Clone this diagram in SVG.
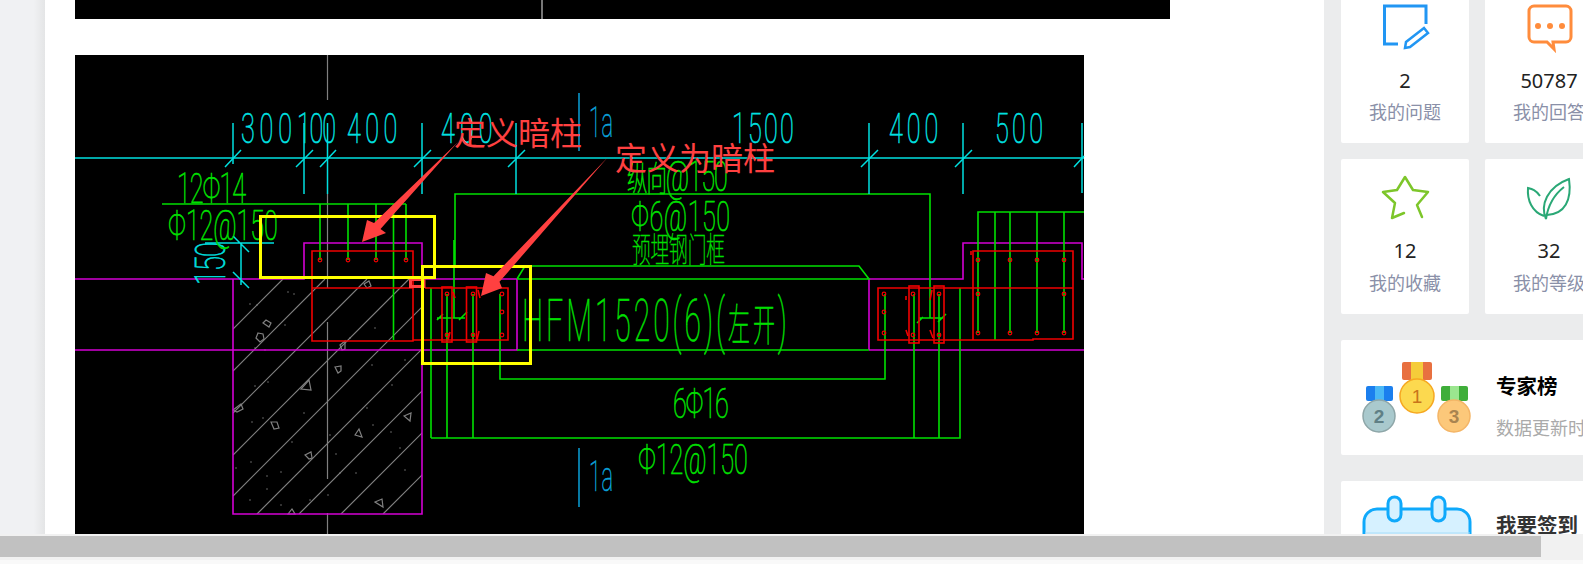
<svg xmlns="http://www.w3.org/2000/svg" width="1583" height="564" viewBox="0 0 1583 564">
<style>
.c{stroke:#00e0e0;stroke-width:1.5;fill:none}
.g{stroke:#00e000;stroke-width:1.6;fill:none}
.m{stroke:#d400d4;stroke-width:1.6;fill:none}
.r{stroke:#f00000;stroke-width:1.6;fill:none}
.y{stroke:#ffff00;stroke-width:3;fill:none}
.h{stroke:#808080;stroke-width:1.2;fill:none}
.b{stroke:#0aa0d8;stroke-width:1.5;fill:none}
.d{fill:none;stroke:#f00000;stroke-width:1.2}
.t{font-family:"Roboto","Noto Sans CJK SC",sans-serif;font-weight:100;font-size:42px;stroke-width:.7px}
.tc{fill:#00e0e0;stroke:#00e0e0}.tg{fill:#00e000;stroke:#00e000}.tb{fill:#0aa0d8;stroke:#0aa0d8}
.a{fill:#ff4040}
.n{font-family:"Noto Sans","Noto Sans CJK SC",sans-serif;font-size:20px;fill:#222;text-anchor:middle}
.l{font-family:"Noto Sans CJK SC",sans-serif;font-size:18px;fill:#8a90a8;text-anchor:middle}
.card{fill:#fff}
</style>
<defs>
<linearGradient id="gut" x1="0" x2="1" y1="0" y2="0"><stop offset="0" stop-color="#f0f1f3"/><stop offset=".75" stop-color="#f0f1f3"/><stop offset="1" stop-color="#e4e5e6"/></linearGradient>
<clipPath id="col"><rect x="233" y="279" width="189" height="235"/></clipPath>
</defs>
<g id="page">
<rect width="1583" height="564" fill="#fff"/>
<rect width="45" height="564" fill="url(#gut)"/>
<rect x="1324" width="259" height="564" fill="#ebeced"/>
<rect x="75" width="1095" height="19" fill="#000"/>
<rect x="541" width="2" height="19" fill="#777"/>
<rect x="75" y="55" width="1009" height="479" fill="#000"/>
</g>
<g id="concrete">
<g clip-path="url(#col)" class="h">
<path d="M233 329L283 279M233 371L325 279M233 413L367 279M233 455L409 279M233 496L450 279M257 514L492 279M299 514L534 279M341 514L576 279M383 514L618 279"/>
</g>
<path class="h" d="M266 320l5 3l-2 4l-6-4zM258 333l5 1l1 5l-4 3l-4-4zM301 389l8-9l2 10zM233 410l8-6l2 5l-6 3zM271 422l6 0l2 6l-5 1zM305 455l6-3l1 6l-3 1zM355 435l4-6l3 8zM335 367l6-1l0 5l-3 2zM340 345l5-4l0 8l-3 1zM404 416l7-3l-1 8zM375 502l7-3l1 8zM288 514l4-5l3 5zM364 284l5-3l2 5l-4 2z"/>
<g fill="#888"><circle cx="288" cy="292" r=".7"/><circle cx="294" cy="294" r=".7"/><circle cx="250" cy="304" r=".7"/><circle cx="257" cy="305" r=".7"/><circle cx="285" cy="325" r=".7"/><circle cx="265" cy="350" r=".7"/><circle cx="255" cy="348" r=".7"/><circle cx="268" cy="382" r=".7"/><circle cx="255" cy="386" r=".7"/><circle cx="252" cy="422" r=".7"/><circle cx="263" cy="418" r=".7"/><circle cx="292" cy="442" r=".7"/><circle cx="304" cy="413" r=".7"/><circle cx="251" cy="462" r=".7"/><circle cx="236" cy="468" r=".7"/><circle cx="281" cy="472" r=".7"/><circle cx="267" cy="476" r=".7"/><circle cx="250" cy="500" r=".7"/><circle cx="267" cy="489" r=".7"/><circle cx="281" cy="505" r=".7"/><circle cx="310" cy="500" r=".7"/><circle cx="328" cy="495" r=".7"/><circle cx="340" cy="473" r=".7"/><circle cx="356" cy="473" r=".7"/><circle cx="336" cy="454" r=".7"/><circle cx="373" cy="425" r=".7"/><circle cx="367" cy="408" r=".7"/><circle cx="372" cy="365" r=".7"/><circle cx="375" cy="328" r=".7"/><circle cx="392" cy="385" r=".7"/><circle cx="405" cy="360" r=".7"/><circle cx="400" cy="448" r=".7"/><circle cx="391" cy="432" r=".7"/><circle cx="405" cy="470" r=".7"/><circle cx="350" cy="338" r=".7"/><circle cx="330" cy="435" r=".7"/></g>
</g>
<g id="grid-gray"><path class="h" d="M327.500 55V100M327.500 194V288M327.500 322V479M327.500 513V534"/></g>
<g id="walls-magenta"><path class="m" d="M75 279H304V243H422V279H517V350H75M233 279V514H422V350M869 350V279H963V243H1082V279H1084M869 350H1084"/></g>
<g id="rebar-green">
<path class="g" d="M162 204H406M320 204V260M348 204V260M376 204V260M393.500 204V340M406 204V260"/>
<path class="g" d="M455 266V194H930V318M437 318H465M919 318H943M454 240V318M437 320l6-6M459 320l8-8M917 323l6-6M938 322l8-8"/>
<path class="g" d="M517 279H869L859 266H525L517 279M517 350H869"/>
<path class="g" d="M431 288V438M447 294V438M473 294V438M500 294V379H885V294M431 438H960V288M914 294V438M939 294V438"/>
<path class="g" d="M978 333V212H1084M995 212V340M1010 212V333M1037 212V333M1064 212V333"/>
</g>
<g id="rebar-red">
<path class="r" d="M312 251H413V341H312ZM312 288H413"/>
<path class="r" d="M425 288H508V340H413"/>
<rect x="442" y="287" width="10" height="55" class="r" stroke-width="2"/>
<rect x="466.500" y="287" width="10" height="55" class="r" stroke-width="2"/>
<path fill="none" stroke="#ff4040" stroke-width="3" d="M410.500 279.500H424V286.500H410.500Z"/>
<path class="r" d="M878 288H1073V339H1033V340H878ZM973 340V251H1073V288M971 251v4"/>
<rect x="909" y="286" width="10" height="57" class="r" stroke-width="2"/>
<rect x="934" y="286" width="10" height="57" class="r" stroke-width="2"/>
<path class="r" d="M453 292l2 6M478 290l2 8M450 332l-2 8M479 331l-2 9M906 296v4M932 290l-2 10M906 330l2 6M930 330l3 8"/>
<g class="d"><circle cx="320" cy="260" r="1.800"/><circle cx="348" cy="260" r="1.800"/><circle cx="376" cy="260" r="1.800"/><circle cx="406" cy="260" r="1.800"/><circle cx="447" cy="294" r="1.800"/><circle cx="473" cy="294" r="1.800"/><circle cx="502" cy="294" r="1.800"/><circle cx="447" cy="335" r="1.800"/><circle cx="473" cy="335" r="1.800"/><circle cx="502" cy="335" r="1.800"/><circle cx="502" cy="312" r="1.800"/><circle cx="884" cy="294" r="1.800"/><circle cx="884" cy="312" r="1.800"/><circle cx="884" cy="333" r="1.800"/><circle cx="913" cy="294" r="1.800"/><circle cx="913" cy="335" r="1.800"/><circle cx="939" cy="294" r="1.800"/><circle cx="939" cy="335" r="1.800"/><circle cx="978" cy="260" r="1.800"/><circle cx="1010" cy="260" r="1.800"/><circle cx="1037" cy="260" r="1.800"/><circle cx="1064" cy="260" r="1.800"/><circle cx="978" cy="294" r="1.800"/><circle cx="1064" cy="294" r="1.800"/><circle cx="978" cy="333" r="1.800"/><circle cx="1010" cy="333" r="1.800"/><circle cx="1037" cy="333" r="1.800"/><circle cx="1064" cy="333" r="1.800"/></g>
</g>
<g id="dimensions">
<path class="c" d="M75 158H1084M233 123V164M304 123V194M327.500 123V194M422 123V194M516 123V194M869 123V194M963 123V194M1082 123V193"/>
<path class="c" d="M225 167L241 150M296 167L313 150M320 167L336 150M414 167L431 150M508 167L525 150M861 167L878 150M955 167L972 150M1074 167L1084 156"/>
<path class="c" d="M205 243H274M241 243V285M233 236L249 252M233 272L249 288"/>
<path class="b" d="M579 93V151M579 448V507"/>
<g class="t tc">
<text transform="translate(241 143) scale(.6 1)" textLength="85" lengthAdjust="spacing">300</text>
<text transform="translate(297 143) scale(.6 1)" textLength="65" lengthAdjust="spacing">100</text>
<text transform="translate(347 143) scale(.6 1)" textLength="84" lengthAdjust="spacing">400</text>
<text transform="translate(441 143) scale(.6 1)" textLength="86" lengthAdjust="spacing">400</text>
<text transform="translate(732 143) scale(.6 1)" textLength="103" lengthAdjust="spacing">1500</text>
<text transform="translate(889 143) scale(.6 1)" textLength="82" lengthAdjust="spacing">400</text>
<text transform="translate(995 143) scale(.6 1)" textLength="80" lengthAdjust="spacing">500</text>
<text transform="translate(225 285) rotate(-90) scale(.65 1)" textLength="66" lengthAdjust="spacing">150</text>
</g>
<g class="t tb">
<text transform="translate(589 137) scale(.52 1)" textLength="46" lengthAdjust="spacing">1a</text>
<text transform="translate(589 491) scale(.52 1)" textLength="46" lengthAdjust="spacing">1a</text>
</g>
</g>
<g id="labels-green" class="t tg">
<text transform="translate(177 203) scale(.6 1)" textLength="115" lengthAdjust="spacing">12Φ14</text>
<text transform="translate(168 240) scale(.6 1)" textLength="183" lengthAdjust="spacing">Φ12@150</text>
<text transform="translate(627 191) scale(.6 1)" textLength="168" lengthAdjust="spacing"><tspan style="font-size:34px">纵向</tspan>@150</text>
<text transform="translate(631 231) scale(.6 1)" textLength="165" lengthAdjust="spacing">Φ6@150</text>
<text transform="translate(632 262) scale(.55 1)" textLength="169" lengthAdjust="spacing" style="font-size:34px;stroke-width:.5px">预埋钢门框</text>
<text transform="translate(522 341) scale(.5 1)" textLength="530" lengthAdjust="spacing" style="font-size:60px"><tspan>HFM1520(6)(</tspan><tspan style="font-size:44px">左开</tspan><tspan>)</tspan></text>
<text transform="translate(673 418) scale(.6 1)" textLength="93" lengthAdjust="spacing">6Φ16</text>
<text transform="translate(638 474) scale(.6 1)" textLength="183" lengthAdjust="spacing">Φ12@150</text>
</g>
<g id="highlight-1"><rect class="y" x="260.500" y="216.500" width="174" height="61"/></g>
<g id="highlight-2"><rect class="y" x="422.500" y="266.500" width="108" height="97"/></g>
<g id="annotation-1">
<polygon class="a" points="458,142 374,223 367,220 362,242 386,233 380.500,229"/>
<text x="454" y="145" font-family="Noto Sans CJK SC,sans-serif" font-size="32" fill="#ff4040">定义暗柱</text>
</g>
<g id="annotation-2">
<polygon class="a" points="608,157 493.500,276.300 486,273 481,296 502,288 499.500,281.700"/>
<text x="615" y="170" font-family="Noto Sans CJK SC,sans-serif" font-size="32" fill="#ff4040">定义为暗柱</text>
</g>
<g id="card-questions">
<rect class="card" x="1341" y="-5" width="128" height="148" rx="2"/>
<path d="M1426 24V6H1384.500V44H1398" fill="none" stroke="#2196f3" stroke-width="3"/>
<path d="M1405 48L1406 42L1424 28L1428 33L1410 47Z" fill="none" stroke="#2196f3" stroke-width="2.500"/>
<text class="n" x="1405" y="88">2</text><text class="l" x="1405" y="119">我的问题</text>
</g>
<g id="card-answers">
<rect class="card" x="1485" y="-5" width="110" height="148" rx="2"/>
<path d="M1534 6H1566a5 5 0 0 1 5 5V37a5 5 0 0 1 -5 5H1553L1554 49L1547 42H1534a5 5 0 0 1 -5 -5V11a5 5 0 0 1 5 -5Z" fill="none" stroke="#ff8c3c" stroke-width="3"/>
<circle cx="1538" cy="26" r="3" fill="#ff8c3c"/><circle cx="1550" cy="26" r="3" fill="#ff8c3c"/><circle cx="1562" cy="26" r="3" fill="#ff8c3c"/>
<text class="n" x="1549" y="88">50787</text><text class="l" x="1549" y="119">我的回答</text>
</g>
<g id="card-favourites">
<rect class="card" x="1341" y="159" width="128" height="155" rx="2"/>
<path d="M1422 217L1417 205L1428 192L1413 190L1405 177L1397 190L1383 192L1395 203L1392 218L1404 213" fill="none" stroke="#7dc62a" stroke-width="2.500" stroke-linejoin="round" stroke-linecap="round"/>
<text class="n" x="1405" y="258">12</text><text class="l" x="1405" y="290">我的收藏</text>
</g>
<g id="card-level">
<rect class="card" x="1485" y="159" width="110" height="155" rx="2"/>
<path d="M1546 219C1540 205 1547 187 1569 179C1572 200 1565 214 1547 215M1546 219C1548 205 1555 194 1564 187M1540 196C1536 190 1532 189 1528 188C1527 200 1532 212 1544 216" fill="none" stroke="#2aa876" stroke-width="2"/>
<text class="n" x="1549" y="258">32</text><text class="l" x="1549" y="290">我的等级</text>
</g>
<g id="card-experts">
<rect class="card" x="1341" y="340" width="260" height="115" rx="2"/>
<rect x="1402" y="362" width="30" height="18" rx="2" fill="#e87040"/><rect x="1411" y="362" width="12" height="18" fill="#f5cc3a"/>
<circle cx="1417" cy="396" r="17" fill="#fcd94f" stroke="#f6a821" stroke-width="1.500"/>
<text x="1417" y="403" text-anchor="middle" font-family="Liberation Sans,sans-serif" font-size="19" fill="#c8741a">1</text>
<rect x="1366" y="386" width="27" height="15" rx="2" fill="#1b7fee"/><rect x="1375" y="386" width="9" height="15" fill="#4ab8f5"/>
<circle cx="1379" cy="416" r="16" fill="#a9c9cd" stroke="#8ea6a8" stroke-width="1.500"/>
<text x="1379" y="423" text-anchor="middle" font-family="Liberation Sans,sans-serif" font-weight="bold" font-size="19" fill="#5f7f85">2</text>
<rect x="1441" y="386" width="27" height="15" rx="2" fill="#3fae3a"/><rect x="1450" y="386" width="9" height="15" fill="#9be68f"/>
<circle cx="1454" cy="416" r="16" fill="#fcc87a" stroke="#f4b566" stroke-width="1.500"/>
<text x="1454" y="423" text-anchor="middle" font-family="Liberation Sans,sans-serif" font-weight="bold" font-size="19" fill="#a98450">3</text>
<text x="1496" y="394" font-family="Noto Sans CJK SC,sans-serif" font-weight="700" font-size="20.500" fill="#000">专家榜</text>
<text x="1496" y="435" font-family="Noto Sans CJK SC,sans-serif" font-size="18" fill="#aaa">数据更新时</text>
</g>
<g id="card-signin">
<rect class="card" x="1341" y="481" width="260" height="90" rx="2"/>
<rect x="1364" y="509" width="106" height="60" rx="13" fill="#d6f1ff" stroke="#0fa9fb" stroke-width="3"/>
<path d="M1365 533H1470" stroke="#a8dcf8" stroke-width="1" fill="none"/>
<rect x="1388" y="497" width="13" height="24" rx="6.500" fill="#d6f1ff" stroke="#0fa9fb" stroke-width="3"/>
<rect x="1432" y="497" width="13" height="24" rx="6.500" fill="#d6f1ff" stroke="#0fa9fb" stroke-width="3"/>
<text x="1496" y="533" font-family="Noto Sans CJK SC,sans-serif" font-weight="700" font-size="20.500" fill="#333">我要签到</text>
</g>
<g id="scrollbar">
<rect y="534" width="1583" height="26" fill="#f1f1f1"/>
<rect y="560" width="1583" height="4" fill="#f9f9f9"/>
<rect y="536" width="1541" height="21" fill="#c1c1c1"/>
</g>
</svg>
